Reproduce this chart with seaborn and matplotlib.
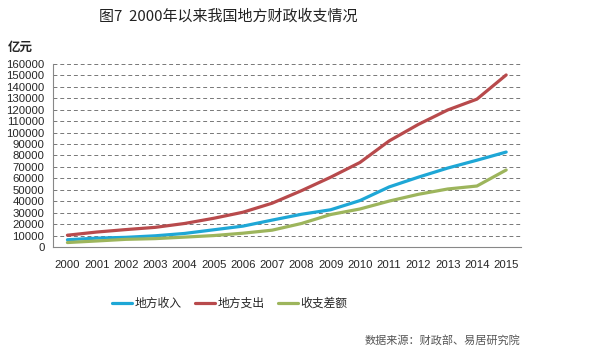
import numpy as np
import pandas as pd
import seaborn as sns
import matplotlib.pyplot as plt

years = [str(y) for y in range(2000, 2016)]
revenue = [6406, 7803, 8515, 9850, 11893, 15101, 18304, 23573, 28650, 32603,
           40613, 52547, 61078, 69011, 75877, 83002]
expenditure = [10367, 13135, 15281, 17230, 20593, 25154, 30431, 38339, 49248, 61044,
               73884, 92734, 107188, 119740, 129215, 150336]
gap = [3961, 5332, 6766, 7380, 8700, 10053, 12127, 14766, 20598, 28441,
       33271, 40187, 46110, 50729, 53338, 67334]
series_names = ['地方收入', '地方支出', '收支差额']
colors = ['#1ea7d6', '#b84a4c', '#9db55c']

sns.set_style('white')
plt.rcParams['font.family'] = ['Noto Sans CJK SC', 'DejaVu Sans']

df = pd.DataFrame({'idx': list(range(len(years))) * 3,
                   'value': revenue + expenditure + gap,
                   'series': [s for s in series_names for _ in years]})

fig = plt.figure(figsize=(6, 3.55), dpi=100)
ax = fig.add_axes([0.088, 0.304, 0.78, 0.516])
sns.lineplot(data=df, x='idx', y='value', hue='series', palette=colors,
             hue_order=series_names, linewidth=2.3, ax=ax, legend=False)

ax.set_xlim(-0.5, len(years) - 0.5)
ax.set_ylim(0, 160000)
ax.set_yticks(np.arange(0, 160001, 10000))
ax.set_yticklabels([str(v) for v in range(0, 160001, 10000)],
                   fontsize=8.2, family='Liberation Sans')
ax.set_xticks(range(len(years)))
ax.set_xticklabels(years, fontsize=8.2, family='Liberation Sans')
ax.set_xticks(np.arange(-0.5, len(years)), minor=True)
ax.tick_params(axis='x', which='major', length=0, pad=9)
ax.tick_params(axis='x', which='minor', length=4, color='#888888', direction='out')
ax.tick_params(axis='y', length=4, color='#888888', direction='out', pad=2)
ax.set_xlabel('')
ax.set_ylabel('')
ax.grid(axis='y', linestyle=(0, (4, 3)), color='#777777', linewidth=0.7)
ax.set_axisbelow(True)
for s in ['top', 'right']:
    ax.spines[s].set_visible(False)
ax.spines['left'].set_color('#888888')
ax.spines['bottom'].set_color('#888888')

handles = [plt.Line2D([], [], color=c, linewidth=2.3) for c in colors]
fig.legend(handles, series_names, loc='center', bbox_to_anchor=(0.383, 0.146),
           ncol=3, frameon=False, fontsize=8.5, handlelength=1.7,
           handletextpad=0.15, columnspacing=1.2)

fig.text(0.38, 0.955, '图7  2000年以来我国地方财政收支情况', ha='center', va='center',
         fontsize=10.8, color='#222222', fontweight='medium')
fig.text(0.013, 0.868, '亿元', ha='left', va='center', fontsize=9, fontweight='bold')
fig.text(0.867, 0.04, '数据来源：财政部、易居研究院', ha='right', va='center',
         fontsize=8, color='#555555')

fig.savefig('out.png', dpi=100)
